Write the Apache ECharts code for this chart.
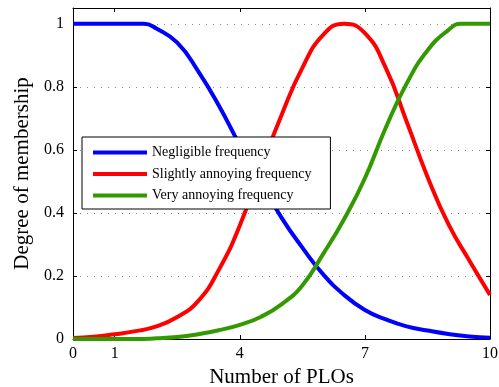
<!DOCTYPE html>
<html>
<head>
<meta charset="utf-8">
<script src="https://cdn.jsdelivr.net/npm/echarts@6/dist/echarts.min.js"></script>
<style>
  html, body { margin: 0; padding: 0; background: #fff; }
  #chart { width: 499px; height: 387px; }
</style>
</head>
<body>
<div id="chart"></div>
<script>
// values
const xTicks = [0, 1, 4, 7, 10]
const yTicks = [0, 0.2, 0.4, 0.6, 0.8, 1]

const negligibleX = [0, 0.5, 1, 1.5, 1.7, 2, 2.5, 3, 3.5, 4, 4.5, 5, 5.5, 6, 6.5, 7, 7.5, 8, 8.5, 9, 9.5, 10]
const negligibleY = [1, 1, 1, 1, 1, 0.985, 0.94, 0.85, 0.74, 0.615, 0.5, 0.385, 0.29, 0.205, 0.14, 0.092, 0.062, 0.04, 0.027, 0.016, 0.008, 0.004]

const slightlyX = [0, 0.5, 1, 1.5, 2, 2.5, 3, 3.5, 4, 4.5, 5, 5.5, 6, 6.5, 7, 7.5, 8, 8.5, 9, 9.5, 10]
const slightlyY = [0.003, 0.007, 0.015, 0.025, 0.04, 0.07, 0.12, 0.22, 0.36, 0.54, 0.71, 0.86, 0.965, 1, 0.97, 0.86, 0.69, 0.515, 0.365, 0.25, 0.14]

const veryX = [0, 0.5, 1, 1.5, 2, 2.5, 3, 3.5, 4, 4.5, 5, 5.5, 6, 6.5, 7, 7.5, 8, 8.5, 9, 9.3, 9.5, 10]
const veryY = [0, 0, 0, 0, 0.002, 0.006, 0.015, 0.028, 0.045, 0.07, 0.11, 0.17, 0.27, 0.38, 0.51, 0.67, 0.81, 0.915, 0.98, 1, 1, 1]

const zip = (xs, ys) => xs.map((x, i) => [x, ys[i]])

const font = 'Liberation Serif'

const fmtY = (v) => {
    let k = v / 0.2
    if (Math.abs(k - Math.round(k)) > 1e-6) return ''
    return String(+v.toFixed(1))
}

const makeSeries = (name, color, data) => ({
    name: name,
    type: 'line',
    data: data,
    showSymbol: false,
    symbol: 'none',
    smooth: 0.5,
    lineStyle: { color: color, width: 4 },
    itemStyle: { color: color },
    clip: true
})

let myChart = echarts.init(document.querySelector('#chart'), null, { renderer: 'canvas' })

let option = {
    animation: false,
    backgroundColor: '#fff',
    grid: { left: 73, top: 8, width: 417, height: 331, outerBoundsMode: 'none', containLabel: false },
    legend: {
        orient: 'vertical',
        left: 82,
        top: 137,
        icon: 'rect',
        itemWidth: 54,
        itemHeight: 4,
        itemGap: 6.5,
        padding: [8, 19, 6, 11],
        backgroundColor: '#fff',
        borderColor: '#000',
        borderWidth: 1,
        textStyle: { fontFamily: font, fontSize: 14, lineHeight: 15, color: '#000' },
        data: ['Negligible frequency', 'Slightly annoying frequency', 'Very annoying frequency']
    },
    xAxis: [{
        type: 'value',
        min: 0,
        max: 10,
        name: 'Number of PLOs',
        nameLocation: 'middle',
        nameGap: 26,
        nameTextStyle: { fontFamily: font, fontSize: 21, color: '#000' },
        axisLine: { onZero: false, lineStyle: { color: '#000', width: 1 } },
        axisTick: { inside: true, length: 4, customValues: xTicks, lineStyle: { color: '#000' } },
        axisLabel: { customValues: xTicks, fontFamily: font, fontSize: 16, color: '#000', margin: 7 },
        splitLine: { show: false }
    }, {
        type: 'value',
        position: 'top',
        min: 0,
        max: 10,
        axisLine: { show: true, onZero: false, lineStyle: { color: '#000', width: 1 } },
        axisTick: { inside: true, length: 4, customValues: xTicks, lineStyle: { color: '#000' } },
        axisLabel: { show: false },
        splitLine: { show: false }
    }],
    yAxis: [{
        type: 'value',
        min: 0,
        max: 1.05,
        interval: 0.2,
        name: 'Degree of membership',
        nameLocation: 'middle',
        nameGap: 40,
        nameTextStyle: { fontFamily: font, fontSize: 21, color: '#000' },
        axisLine: { show: true, onZero: false, lineStyle: { color: '#000', width: 1 } },
        axisTick: { show: true, inside: true, length: 4, customValues: yTicks, lineStyle: { color: '#000' } },
        axisLabel: { fontFamily: font, fontSize: 16, color: '#000', margin: 9, formatter: fmtY },
        splitLine: { show: true, lineStyle: { color: '#8c8c8c', width: 1, type: [1, 6] } }
    }, {
        type: 'value',
        position: 'right',
        min: 0,
        max: 1.05,
        interval: 0.2,
        axisLine: { show: true, onZero: false, lineStyle: { color: '#000', width: 1 } },
        axisTick: { show: true, inside: true, length: 4, customValues: yTicks, lineStyle: { color: '#000' } },
        axisLabel: { show: false },
        splitLine: { show: false }
    }],
    series: [
        makeSeries('Negligible frequency', '#0000ff', zip(negligibleX, negligibleY)),
        makeSeries('Slightly annoying frequency', '#ff0000', zip(slightlyX, slightlyY)),
        makeSeries('Very annoying frequency', '#339900', zip(veryX, veryY))
    ]
}

myChart.setOption(option)
</script>
</body>
</html>
